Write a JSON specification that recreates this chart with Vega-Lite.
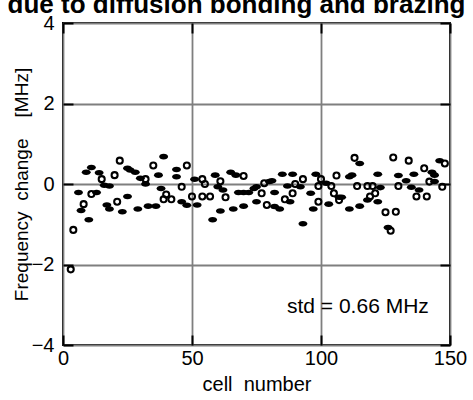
{
  "$schema": "https://vega.github.io/schema/vega-lite/v6.json",
  "autosize": {"type": "none"},
  "padding": {"left": 63, "top": 23, "right": 23, "bottom": 55},
  "width": 387,
  "height": 322,
  "background": "white",
  "config": {
    "view": {"stroke": "black", "strokeWidth": 2},
    "font": "Liberation Sans"
  },
  "title": {
    "text": "due to diffusion bonding and brazing",
    "fontSize": 26,
    "fontWeight": "bold",
    "font": "Liberation Sans",
    "color": "black",
    "anchor": "middle",
    "frame": "group",
    "dx": -20,
    "dy": 26,
    "baseline": "alphabetic",
    "offset": 0
  },
  "datasets": {
    "pts": [
      {"cell": 3, "df": -2.12, "m": "o"},
      {"cell": 4, "df": -1.14, "m": "o"},
      {"cell": 6, "df": -0.21, "m": "f"},
      {"cell": 7, "df": -0.66, "m": "f"},
      {"cell": 8, "df": -0.50, "m": "o"},
      {"cell": 9, "df": 0.29, "m": "f"},
      {"cell": 10, "df": -0.89, "m": "f"},
      {"cell": 11, "df": 0.41, "m": "f"},
      {"cell": 11, "df": -0.25, "m": "o"},
      {"cell": 13, "df": -0.21, "m": "f"},
      {"cell": 14, "df": 0.28, "m": "f"},
      {"cell": 15, "df": 0.12, "m": "o"},
      {"cell": 16, "df": -0.03, "m": "f"},
      {"cell": 17, "df": -0.52, "m": "f"},
      {"cell": 18, "df": -0.05, "m": "f"},
      {"cell": 18, "df": -0.62, "m": "f"},
      {"cell": 20, "df": 0.22, "m": "o"},
      {"cell": 21, "df": -0.44, "m": "o"},
      {"cell": 22, "df": 0.58, "m": "o"},
      {"cell": 23, "df": -0.69, "m": "f"},
      {"cell": 25, "df": 0.39, "m": "f"},
      {"cell": 25, "df": -0.31, "m": "f"},
      {"cell": 26, "df": 0.35, "m": "f"},
      {"cell": 28, "df": 0.29, "m": "f"},
      {"cell": 29, "df": -0.62, "m": "f"},
      {"cell": 30, "df": 0.14, "m": "f"},
      {"cell": 32, "df": 0.12, "m": "o"},
      {"cell": 32, "df": 0.0, "m": "f"},
      {"cell": 33, "df": -0.55, "m": "f"},
      {"cell": 35, "df": 0.46, "m": "o"},
      {"cell": 36, "df": -0.55, "m": "f"},
      {"cell": 37, "df": 0.22, "m": "f"},
      {"cell": 38, "df": -0.11, "m": "f"},
      {"cell": 39, "df": 0.68, "m": "f"},
      {"cell": 39, "df": -0.38, "m": "o"},
      {"cell": 40, "df": -0.26, "m": "o"},
      {"cell": 42, "df": -0.38, "m": "o"},
      {"cell": 44, "df": 0.36, "m": "f"},
      {"cell": 44, "df": 0.18, "m": "f"},
      {"cell": 46, "df": -0.07, "m": "o"},
      {"cell": 46, "df": -0.44, "m": "f"},
      {"cell": 48, "df": 0.46, "m": "o"},
      {"cell": 48, "df": -0.53, "m": "f"},
      {"cell": 50, "df": -0.31, "m": "o"},
      {"cell": 51, "df": 0.12, "m": "f"},
      {"cell": 52, "df": -0.52, "m": "f"},
      {"cell": 54, "df": 0.12, "m": "o"},
      {"cell": 54, "df": -0.31, "m": "o"},
      {"cell": 55, "df": 0.0, "m": "o"},
      {"cell": 57, "df": -0.31, "m": "o"},
      {"cell": 58, "df": -0.89, "m": "f"},
      {"cell": 59, "df": 0.22, "m": "f"},
      {"cell": 60, "df": -0.07, "m": "f"},
      {"cell": 61, "df": 0.07, "m": "o"},
      {"cell": 61, "df": -0.67, "m": "f"},
      {"cell": 62, "df": -0.15, "m": "f"},
      {"cell": 63, "df": -0.33, "m": "o"},
      {"cell": 65, "df": 0.29, "m": "f"},
      {"cell": 66, "df": -0.62, "m": "f"},
      {"cell": 67, "df": 0.22, "m": "f"},
      {"cell": 68, "df": -0.21, "m": "f"},
      {"cell": 70, "df": 0.20, "m": "o"},
      {"cell": 70, "df": -0.21, "m": "f"},
      {"cell": 70, "df": -0.55, "m": "f"},
      {"cell": 72, "df": -0.21, "m": "f"},
      {"cell": 74, "df": -0.11, "m": "f"},
      {"cell": 75, "df": -0.44, "m": "f"},
      {"cell": 75, "df": -0.07, "m": "f"},
      {"cell": 77, "df": -0.23, "m": "o"},
      {"cell": 78, "df": 0.02, "m": "o"},
      {"cell": 79, "df": -0.52, "m": "o"},
      {"cell": 80, "df": 0.06, "m": "f"},
      {"cell": 81, "df": 0.08, "m": "f"},
      {"cell": 82, "df": -0.21, "m": "f"},
      {"cell": 82, "df": -0.56, "m": "f"},
      {"cell": 84, "df": -0.62, "m": "f"},
      {"cell": 85, "df": 0.24, "m": "f"},
      {"cell": 86, "df": -0.38, "m": "o"},
      {"cell": 87, "df": -0.05, "m": "f"},
      {"cell": 88, "df": -0.44, "m": "f"},
      {"cell": 89, "df": 0.24, "m": "f"},
      {"cell": 89, "df": -0.23, "m": "o"},
      {"cell": 90, "df": 0.0, "m": "o"},
      {"cell": 92, "df": -0.07, "m": "f"},
      {"cell": 93, "df": 0.12, "m": "o"},
      {"cell": 93, "df": -0.99, "m": "f"},
      {"cell": 96, "df": -0.23, "m": "f"},
      {"cell": 97, "df": -0.62, "m": "f"},
      {"cell": 98, "df": 0.24, "m": "f"},
      {"cell": 99, "df": -0.05, "m": "o"},
      {"cell": 99, "df": -0.44, "m": "o"},
      {"cell": 100, "df": 0.12, "m": "o"},
      {"cell": 102, "df": 0.02, "m": "f"},
      {"cell": 103, "df": -0.50, "m": "f"},
      {"cell": 104, "df": -0.05, "m": "o"},
      {"cell": 105, "df": -0.23, "m": "o"},
      {"cell": 106, "df": 0.21, "m": "o"},
      {"cell": 107, "df": -0.33, "m": "f"},
      {"cell": 107, "df": -0.40, "m": "o"},
      {"cell": 108, "df": -0.33, "m": "f"},
      {"cell": 111, "df": 0.18, "m": "f"},
      {"cell": 111, "df": -0.62, "m": "f"},
      {"cell": 112, "df": 0.22, "m": "f"},
      {"cell": 113, "df": 0.65, "m": "o"},
      {"cell": 114, "df": -0.05, "m": "o"},
      {"cell": 115, "df": 0.51, "m": "f"},
      {"cell": 115, "df": -0.55, "m": "f"},
      {"cell": 118, "df": -0.05, "m": "o"},
      {"cell": 118, "df": -0.40, "m": "f"},
      {"cell": 119, "df": -0.31, "m": "o"},
      {"cell": 120, "df": -0.05, "m": "o"},
      {"cell": 121, "df": -0.23, "m": "o"},
      {"cell": 122, "df": 0.24, "m": "f"},
      {"cell": 122, "df": -0.44, "m": "f"},
      {"cell": 123, "df": -0.09, "m": "f"},
      {"cell": 125, "df": -0.70, "m": "o"},
      {"cell": 126, "df": -1.08, "m": "f"},
      {"cell": 127, "df": -1.16, "m": "o"},
      {"cell": 128, "df": 0.66, "m": "o"},
      {"cell": 129, "df": -0.69, "m": "o"},
      {"cell": 130, "df": 0.21, "m": "f"},
      {"cell": 130, "df": -0.05, "m": "o"},
      {"cell": 133, "df": 0.08, "m": "f"},
      {"cell": 134, "df": 0.58, "m": "o"},
      {"cell": 135, "df": -0.08, "m": "f"},
      {"cell": 136, "df": 0.24, "m": "f"},
      {"cell": 137, "df": -0.31, "m": "o"},
      {"cell": 138, "df": -0.15, "m": "f"},
      {"cell": 140, "df": 0.39, "m": "o"},
      {"cell": 141, "df": -0.31, "m": "o"},
      {"cell": 142, "df": 0.06, "m": "o"},
      {"cell": 143, "df": 0.29, "m": "f"},
      {"cell": 144, "df": 0.22, "m": "f"},
      {"cell": 144, "df": 0.06, "m": "f"},
      {"cell": 146, "df": 0.58, "m": "f"},
      {"cell": 147, "df": -0.07, "m": "o"},
      {"cell": 148, "df": 0.51, "m": "o"}
    ],
    "note": [
      {"cell": 114.3, "df": -3.05, "label": "std = 0.66 MHz"}
    ]
  },
  "layer": [
    {
      "data": {"name": "pts"},
      "transform": [{"filter": "datum.m === 'o'"}],
      "mark": {"type": "point", "shape": "circle", "filled": false, "stroke": "black", "strokeWidth": 2.1, "size": 36, "opacity": 1},
      "encoding": {
        "x": {
          "field": "cell", "type": "quantitative",
          "scale": {"domain": [0, 150], "nice": false, "zero": false},
          "axis": {
            "orient": "bottom", "values": [0, 50, 100, 150], "title": "cell\u00a0\u00a0number",
            "grid": true, "gridColor": "#7f7f7f", "gridWidth": 1.8,
            "domain": false, "ticks": true, "tickSize": -10, "tickColor": "black", "tickWidth": 2,
            "labelPadding": 13, "labelFlush": false, "labelOverlap": false,
            "labelFont": "Liberation Sans", "labelFontSize": 20, "labelColor": "black",
            "titleFont": "Liberation Sans", "titleFontSize": 20, "titleFontWeight": "normal", "titleColor": "black",
            "titlePadding": 6
          }
        },
        "y": {
          "field": "df", "type": "quantitative",
          "scale": {"domain": [-4, 4], "nice": false, "zero": false},
          "axis": {
            "orient": "left", "values": [-4, -2, 0, 2, 4], "title": "Frequency\u00a0\u00a0change\u00a0\u00a0\u00a0\u00a0[MHz]",
            "grid": true, "gridColor": "#7f7f7f", "gridWidth": 1.8,
            "domain": false, "ticks": true, "tickSize": -10, "tickColor": "black", "tickWidth": 2,
            "labelPadding": 19, "labelFlush": false, "labelOverlap": false,
            "labelFont": "Liberation Sans", "labelFontSize": 20, "labelColor": "black",
            "titleFont": "Liberation Sans", "titleFontSize": 19, "titleFontWeight": "normal", "titleColor": "black",
            "titlePadding": 0
          }
        }
      }
    },
    {
      "data": {"name": "pts"},
      "transform": [{"filter": "datum.m === 'f'"}],
      "mark": {"type": "point", "shape": "M -1 0 A 1 0.62 0 1 0 1 0 A 1 0.62 0 1 0 -1 0 Z", "filled": true, "fill": "black", "strokeWidth": 0, "size": 80, "opacity": 1},
      "encoding": {
        "x": {"field": "cell", "type": "quantitative", "scale": {"domain": [0, 150], "nice": false, "zero": false}, "axis": null},
        "y": {"field": "df", "type": "quantitative", "scale": {"domain": [-4, 4], "nice": false, "zero": false}, "axis": null}
      }
    },
    {
      "data": {"name": "note"},
      "mark": {"type": "text", "fontSize": 21, "font": "Liberation Sans", "color": "black", "align": "center", "baseline": "middle"},
      "encoding": {
        "x": {
          "field": "cell", "type": "quantitative",
          "scale": {"domain": [0, 150], "nice": false, "zero": false},
          "axis": {
            "orient": "top", "values": [0, 50, 100, 150], "title": null, "labels": false, "grid": false,
            "domain": false, "ticks": true, "tickSize": -10, "tickColor": "black", "tickWidth": 2
          }
        },
        "y": {
          "field": "df", "type": "quantitative",
          "scale": {"domain": [-4, 4], "nice": false, "zero": false},
          "axis": {
            "orient": "right", "values": [-4, -2, 0, 2, 4], "title": null, "labels": false, "grid": false,
            "domain": false, "ticks": true, "tickSize": -10, "tickColor": "black", "tickWidth": 2
          }
        },
        "text": {"field": "label"}
      }
    }
  ],
  "resolve": {"axis": {"x": "independent", "y": "independent"}}
}
